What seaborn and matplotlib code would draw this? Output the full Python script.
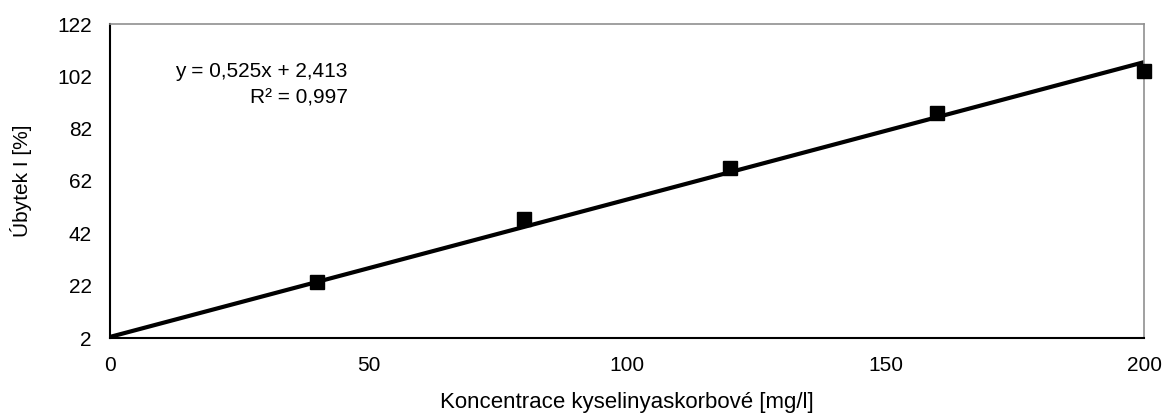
import matplotlib
matplotlib.use("Agg")
import matplotlib.pyplot as plt
import seaborn as sns
import numpy as np
import pandas as pd

# Data
concentration = [40, 80, 120, 160, 200]
decrease = [23.5, 47.4, 66.8, 88.0, 104.0]
slope = 0.525
intercept = 2.413
trend_x = [0, 200]
y_ticks = [2, 22, 42, 62, 82, 102, 122]
x_ticks = [0, 50, 100, 150, 200]

sns.set_theme(style="white")
plt.rcParams['font.family'] = ['Liberation Sans', 'DejaVu Sans']

fig = plt.figure(figsize=(11.63, 4.18), dpi=100)
ax = fig.add_axes([110/1163, 1-338/418, (1144-110)/1163, (338-24)/418])

trend_df = pd.DataFrame({"x": trend_x, "y": [slope*x + intercept for x in trend_x]})
sns.lineplot(data=trend_df, x="x", y="y", ax=ax, color="black", linewidth=3, zorder=2)

pts = pd.DataFrame({"x": concentration, "y": decrease})
ax.plot(pts["x"], pts["y"], linestyle="none", marker="s", markersize=10,
        color="black", zorder=3, clip_on=False)

ax.set_xlim(0, 200)
ax.set_ylim(2, 122)
ax.set_xticks(x_ticks)
ax.set_yticks(y_ticks)
ax.tick_params(axis="both", which="major", direction="out", length=5, width=1,
               color="black", labelsize=15, labelcolor="black")
ax.tick_params(axis="x", pad=8)
ax.tick_params(axis="y", pad=8)

for side in ["left", "bottom"]:
    ax.spines[side].set_color("black")
    ax.spines[side].set_linewidth(1.5)
for side in ["top", "right"]:
    ax.spines[side].set_color("#909090")
    ax.spines[side].set_linewidth(1.2)

ax.set_xlabel("Koncentrace kyselinyaskorbové [mg/l]", fontsize=16, color="black", labelpad=12)
ax.set_ylabel("Úbytek I [%]", fontsize=15, color="black", labelpad=18)

ax.text(0.230, 0.806, "y = 0,525x + 2,413\nR² = 0,997", transform=ax.transAxes,
        ha="right", va="center", multialignment="right", fontsize=15, color="black",
        linespacing=1.5)

fig.savefig("out.png", dpi=100)
